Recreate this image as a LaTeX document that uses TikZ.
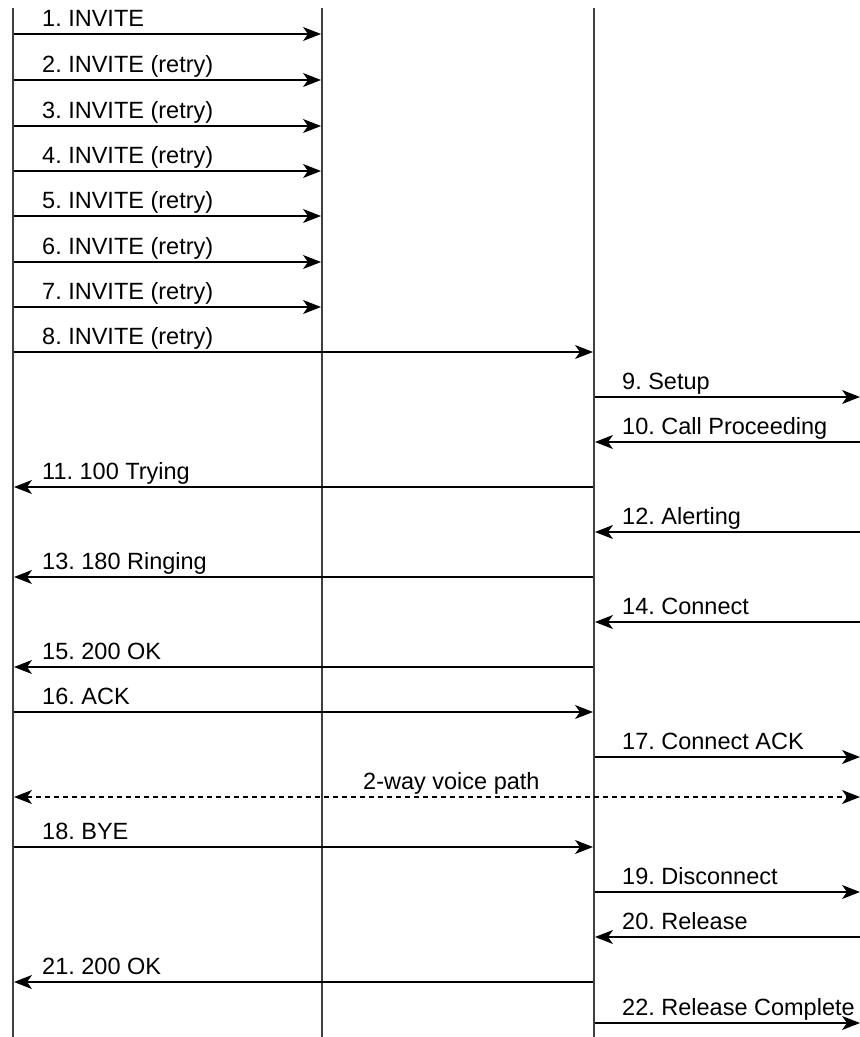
\documentclass[tikz,border=0pt]{standalone}
\usepackage{fontspec}
\setmainfont{Liberation Sans}
\usetikzlibrary{arrows.meta}
\newcommand\lblfont{\fontsize{23.5}{26}\selectfont\frenchspacing}
\begin{document}
\begin{tikzpicture}[x=1pt,y=-1pt,
  lifeline/.style={draw=black!75,line width=1.5pt},
  msg/.style={draw=black,line width=1.2pt,-{Stealth[length=18pt,width=14pt,inset=5pt]}},
  voice/.style={draw=black,line width=1.2pt,dash pattern=on 5pt off 4pt,{Stealth[length=18pt,width=14pt,inset=5pt]}-{Stealth[length=18pt,width=14pt,inset=5pt]}},
  lbl/.style={anchor=base west,inner sep=0pt,font=\lblfont}]
\useasboundingbox (0,0) rectangle (860,1037);
% lifeline coordinates
\coordinate (Atop) at (13,8);   \coordinate (Abot) at (13,1037);
\coordinate (Btop) at (322,8);  \coordinate (Bbot) at (322,1037);
\coordinate (Ctop) at (594,8);  \coordinate (Cbot) at (594,1037);
\draw[lifeline] (Atop) -- (Abot);
\draw[lifeline] (Btop) -- (Bbot);
\draw[lifeline] (Ctop) -- (Cbot);
% messages A -> B
\foreach \i/\y/\t in {1/34/{1. INVITE},2/80/{2. INVITE (retry)},3/126/{3. INVITE (retry)},4/171/{4. INVITE (retry)},5/216/{5. INVITE (retry)},6/262/{6. INVITE (retry)},7/307/{7. INVITE (retry)}}{
  \coordinate (s\i) at (14,\y); \coordinate (e\i) at (321,\y);
  \draw[msg] (s\i) -- (e\i);
  \node[lbl] (l\i) at (42,\y-8) {\t};
}
% A -> C
\foreach \i/\y/\t in {8/352/{8. INVITE (retry)},16/712/{16. ACK},18/847/{18. BYE}}{
  \coordinate (s\i) at (14,\y); \coordinate (e\i) at (593,\y);
  \draw[msg] (s\i) -- (e\i);
  \node[lbl] (l\i) at (42,\y-8) {\t};
}
% C -> A
\foreach \i/\y/\t in {11/487/{11. 100 Trying},13/577/{13. 180 Ringing},15/667/{15. 200 OK},21/982/{21. 200 OK}}{
  \coordinate (s\i) at (593,\y); \coordinate (e\i) at (14,\y);
  \draw[msg] (s\i) -- (e\i);
  \node[lbl] (l\i) at (42,\y-8) {\t};
}
% C -> D (right edge)
\foreach \i/\y/\t in {9/397/{9. Setup},17/757/{17. Connect ACK},19/892/{19. Disconnect},22/1023/{22. Release Complete}}{
  \coordinate (s\i) at (595,\y); \coordinate (e\i) at (860,\y);
  \draw[msg] (s\i) -- (e\i);
  \node[lbl] (l\i) at (622,\y-8) {\t};
}
% D -> C
\foreach \i/\y/\t in {10/442/{10. Call Proceeding},12/532/{12. Alerting},14/622/{14. Connect},20/937/{20. Release}}{
  \coordinate (s\i) at (860,\y); \coordinate (e\i) at (595,\y);
  \draw[msg] (s\i) -- (e\i);
  \node[lbl] (l\i) at (622,\y-8) {\t};
}
% voice path
\coordinate (vA) at (14,797); \coordinate (vD) at (860,797);
\draw[voice] (vA) -- (vD);
\node[lbl] (lv) at (363,789) {2-way voice path};
\end{tikzpicture}
\end{document}
